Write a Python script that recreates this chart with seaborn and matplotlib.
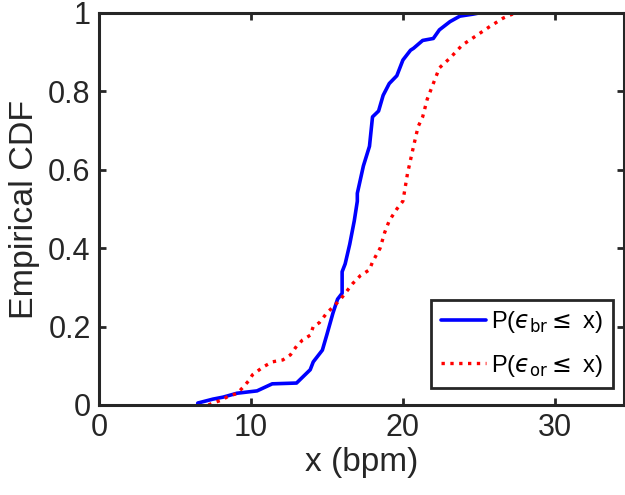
import matplotlib
matplotlib.use("Agg")
import matplotlib.pyplot as plt
import seaborn as sns
import pandas as pd

# ECDF curves (x in bpm, cumulative probability)
blue_x = [6.5, 6.5, 7.5, 8.16, 9.08, 10.4, 11.4, 13.0, 13.9, 14.1, 14.7, 15.0, 15.4, 15.7,
          16.0, 16.0, 16.2, 16.5, 16.8, 17.0, 17.0, 17.4, 17.8, 18.0, 18.4, 18.7, 19.1,
          19.6, 20.0, 20.5, 20.7, 21.3, 22.0, 22.4, 23.1, 23.75, 24.6, 25.0, 26.4]
blue_y = [0.0, 0.005, 0.015, 0.02, 0.03, 0.036, 0.054, 0.056, 0.09, 0.11, 0.14, 0.18, 0.235,
          0.27, 0.285, 0.34, 0.36, 0.41, 0.47, 0.52, 0.54, 0.61, 0.66, 0.735, 0.75, 0.79,
          0.82, 0.84, 0.88, 0.905, 0.91, 0.93, 0.935, 0.957, 0.978, 0.992, 0.997, 1.0, 1.0]
red_x = [7.2, 7.5, 8.1, 8.4, 9.1, 9.5, 9.9, 10.1, 10.8, 11.4, 12.1, 12.6, 13.0, 13.4, 13.9,
         14.1, 14.5, 15.0, 15.4, 15.9, 16.3, 16.7, 17.2, 17.8, 18.0, 18.5, 18.8, 19.1, 19.6,
         20.0, 20.3, 20.7, 21.0, 21.3, 21.6, 22.0, 22.4, 23.1, 23.9, 24.9, 25.7, 26.6, 27.2,
         27.6, 29.5]
red_y = [0.0, 0.005, 0.013, 0.02, 0.03, 0.046, 0.064, 0.077, 0.097, 0.11, 0.115, 0.128, 0.15,
         0.166, 0.178, 0.2, 0.21, 0.235, 0.25, 0.27, 0.29, 0.31, 0.33, 0.345, 0.365, 0.40,
         0.44, 0.47, 0.50, 0.52, 0.59, 0.66, 0.71, 0.735, 0.78, 0.82, 0.86, 0.885, 0.918,
         0.944, 0.965, 0.987, 0.997, 1.0, 1.0]

labels = ["P($\u03f5_{\\rm br} \\leq$ x)", "P($\u03f5_{\\rm or} \\leq$ x)"]
x_ticks = [0, 10, 20, 30]
y_ticks = [0, 0.2, 0.4, 0.6, 0.8, 1]
y_tick_labels = ["0", "0.2", "0.4", "0.6", "0.8", "1"]

sns.set_style("ticks")
plt.rcParams["font.family"] = ["Liberation Sans", "DejaVu Sans"]
plt.rcParams["mathtext.fontset"] = "dejavusans"

fig = plt.figure(figsize=(6.25, 4.95), dpi=100)
ax = fig.add_axes([99 / 625, 90 / 495, 525 / 625, 392 / 495])

dfb = pd.DataFrame({"x": blue_x, "y": blue_y})
dfr = pd.DataFrame({"x": red_x, "y": red_y})
sns.lineplot(data=dfb, x="x", y="y", ax=ax, sort=False, estimator=None,
             color="#0000ff", linewidth=2.6, label=labels[0])
sns.lineplot(data=dfr, x="x", y="y", ax=ax, sort=False, estimator=None,
             color="#ff0000", linewidth=2.4, linestyle=":", label=labels[1])

dark = "#262626"
ax.set_xlim(0, 34.55)
ax.set_ylim(0, 1)
ax.set_xticks(x_ticks)
ax.set_yticks(y_ticks)
ax.set_yticklabels(y_tick_labels)
ax.tick_params(direction="in", length=5, width=2, colors=dark, labelsize=22,
               top=True, right=True, pad=6)
for s in ax.spines.values():
    s.set_visible(True)
    s.set_linewidth(2.2)
    s.set_color(dark)
ax.set_xlabel("x (bpm)", fontsize=24, color=dark, labelpad=3)
ax.set_ylabel("Empirical CDF", fontsize=24.5, color=dark, labelpad=6)

leg = ax.legend(loc="lower right", bbox_to_anchor=(0.979, 0.043), borderaxespad=0,
                fontsize=17, handlelength=1.9, labelspacing=0.75, handletextpad=0.25,
                borderpad=0.4, fancybox=False, framealpha=1, edgecolor=dark)
leg.get_frame().set_linewidth(2.0)
for t in leg.get_texts():
    t.set_color("black")

fig.savefig("out.png", dpi=100)
